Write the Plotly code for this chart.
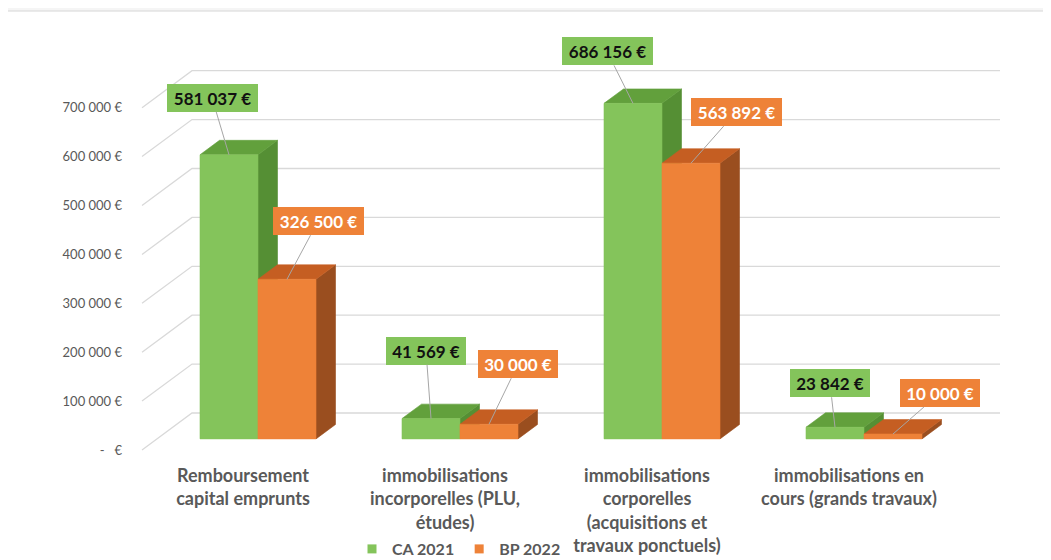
import plotly.graph_objects as go

# ---------------- data ----------------
categories = [
    "Remboursement<br>capital emprunts",
    "immobilisations<br>incorporelles (PLU,<br>études)",
    "immobilisations<br>corporelles<br>(acquisitions et<br>travaux ponctuels)",
    "immobilisations en<br>cours (grands travaux)",
]
series_names = ["CA 2021", "BP 2022"]
ca_2021 = [581037, 41569, 686156, 23842]
bp_2022 = [326500, 30000, 563892, 10000]
tick_values = [0, 100000, 200000, 300000, 400000, 500000, 600000, 700000]
tick_labels = ["-\u00a0\u00a0\u00a0€", "100 000 €", "200 000 €", "300 000 €",
               "400 000 €", "500 000 €", "600 000 €", "700 000 €"]

# ---------------- geometry / style ----------------
OFF = 8                            # page body margin of the html page
W, H = 1051 - OFF, 560 - OFF       # figure size
ML, MR, MT, MB = 132 - OFF, 31, 15 - OFF, 97
PLOT_W, PLOT_H = W - ML - MR, H - MT - MB
X0_PX, SP = 243.0 - OFF, 202.0          # figure pixel of category 0 centre, pixels per category
Y0_PX, KPX = 450.0 - OFF, 48.9 / 100000  # figure pixel of value 0 (label plane), pixels per euro
DX = 50.0 / SP                    # depth shift (x units) from label plane to back wall
DY = 37.0 / KPX                   # depth shift (euros) from label plane to back wall
T_FRONT, T_BACK = 0.30, 0.69
BAR_W = 58.0 / SP

x_range = [(ML - X0_PX) / SP, (W - MR - X0_PX) / SP]
y_range = [(Y0_PX - (H - MB)) / KPX, (Y0_PX - MT) / KPX]


def px_to_paper_x(px):
    return (px - OFF - ML) / PLOT_W


def px_to_paper_y(py):
    return ((H - MB) - (py - OFF)) / PLOT_H


colors = {
    "CA 2021": dict(front="#84C45B", top="#62A03C", side="#558F34", text="#111111"),
    "BP 2022": dict(front="#EE8238", top="#C55E22", side="#9A4E1F", text="#FFFFFF"),
}
label_offsets = {
    "CA 2021": [(-17, -57), (-5, -68), (-26, -52), (-5, -44)],
    "BP 2022": [(31, -58), (29, -60), (45, -51), (47, -41)],
}

fig = go.Figure()

# ---------------- 3D grid (side wall + back wall) ----------------
gx, gy = [], []
for v in tick_values:
    gx += [-0.5, -0.5 + DX, 3.5 + DX, None]
    gy += [v, v + DY, v + DY, None]
fig.add_trace(go.Scatter(x=gx, y=gy, mode="lines", line=dict(color="#D9D9D9", width=1.3),
                         hoverinfo="skip", showlegend=False))


def poly(xs, ys, color):
    fig.add_trace(go.Scatter(x=xs + [xs[0]], y=ys + [ys[0]], mode="lines", fill="toself",
                             fillcolor=color, line=dict(color=color, width=0.6),
                             hoverinfo="skip", showlegend=False))


series = {"CA 2021": ca_2021, "BP 2022": bp_2022}
annotations = []
for i in range(len(categories)):
    for s_idx, name in enumerate(series_names):
        v = series[name][i]
        c = colors[name]
        left = i - BAR_W + s_idx * BAR_W + T_FRONT * DX
        right = left + BAR_W
        base = T_FRONT * DY
        dx = (T_BACK - T_FRONT) * DX
        dy = (T_BACK - T_FRONT) * DY
        # side face
        poly([right, right + dx, right + dx, right], [base, base + dy, base + v + dy, base + v], c["side"])
        # top face
        poly([left, right, right + dx, left + dx], [base + v, base + v, base + v + dy, base + v + dy], c["top"])
        # front face
        poly([left, right, right, left], [base, base, base + v, base + v], c["front"])
        ox, oy = label_offsets[name][i]
        txt = f"{v:,}".replace(",", "\u00a0") + "\u00a0€"
        annotations.append(dict(
            x=(left + right) / 2, y=base + v, xref="x", yref="y",
            text=f"<b>{txt}</b>", showarrow=True, arrowhead=0, arrowwidth=1,
            arrowcolor="#A6A6A6", ax=ox, ay=oy, standoff=0,
            bgcolor=c["front"], borderpad=5, borderwidth=0,
            width=81 if v >= 100000 else 70, height=18,
            font=dict(family="Lato", size=17, color=c["text"]),
        ))

# legend entries
for name in series_names:
    fig.add_trace(go.Scatter(x=[None], y=[None], mode="markers", name=name,
                             marker=dict(symbol="square", size=9, color=colors[name]["front"])))

# outer chart border
fig.add_shape(type="rect", xref="paper", yref="paper",
              x0=px_to_paper_x(4), x1=px_to_paper_x(1060),
              y0=px_to_paper_y(570), y1=px_to_paper_y(11),
              line=dict(color="#D6D6D6", width=1), fillcolor="white", layer="below")

fig.update_layout(
    width=W, height=H,
    margin=dict(l=ML, r=MR, t=MT, b=MB, autoexpand=False),
    paper_bgcolor="#F5F5F5", plot_bgcolor="rgba(0,0,0,0)",
    showlegend=True,
    legend=dict(orientation="h", x=px_to_paper_x(459), xanchor="center",
                y=px_to_paper_y(532), yanchor="top",
                font=dict(family="Lato", size=16, color="#595959", weight="bold"),
                itemwidth=30, bgcolor="rgba(0,0,0,0)", traceorder="normal"),
    annotations=annotations,
    xaxis=dict(range=x_range, showgrid=False, zeroline=False, showline=False,
               tickvals=list(range(len(categories))), ticktext=categories, ticks="",
               tickfont=dict(family="Lato", size=18, color="#595959", weight="bold"),
               ticklabelstandoff=0, fixedrange=True),
    yaxis=dict(range=y_range, showgrid=False, zeroline=False, showline=False,
               tickvals=tick_values, ticktext=tick_labels, ticks="",
               tickfont=dict(family="Lato", size=13, color="#595959"),
               ticklabelstandoff=9, fixedrange=True),
)

fig.write_html("out.html")
